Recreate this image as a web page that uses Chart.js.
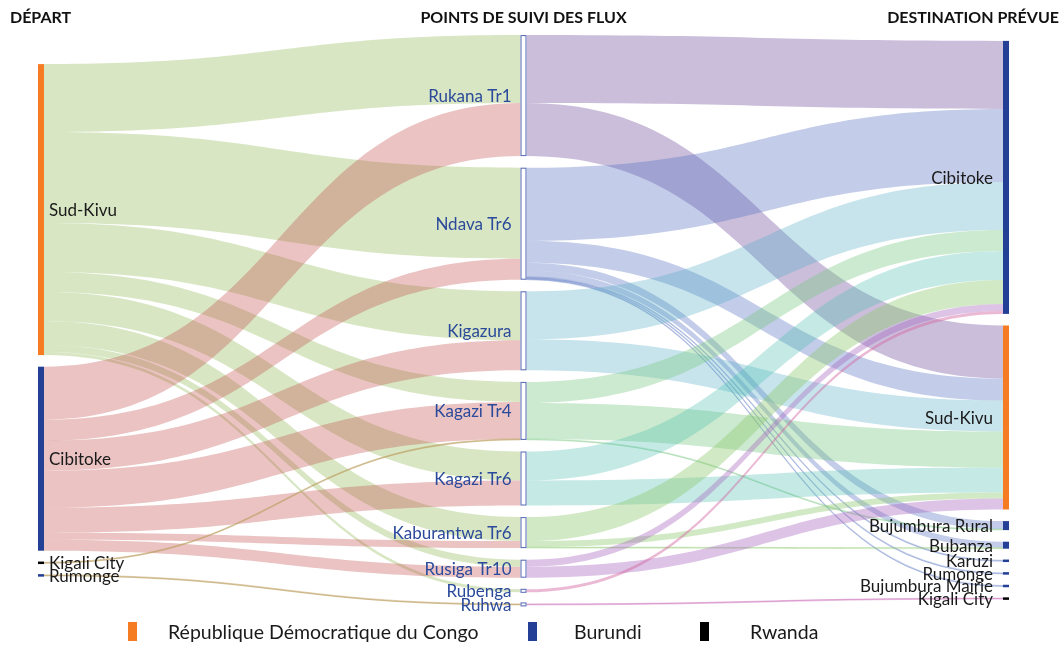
<!DOCTYPE html>
<html><head><meta charset="utf-8">
<script src="https://cdn.jsdelivr.net/npm/chart.js@4/dist/chart.umd.min.js"></script>
<style>html,body{margin:0;padding:0;background:#fff;}#wrap{width:1061px;height:646px;position:relative}</style>
</head><body><div id="wrap"><canvas id="c" width="1061" height="646"></canvas></div>
<script>
// ---------- DATA ----------
const headers = ['DÉPART', 'POINTS DE SUIVI DES FLUX', 'DESTINATION PRÉVUE'];
const departNodes = ['Sud-Kivu', 'Cibitoke', 'Kigali City', 'Rumonge'];
const departCountry = [0, 1, 2, 1];
const pointNodes = ['Rukana Tr1', 'Ndava Tr6', 'Kigazura', 'Kagazi Tr4', 'Kagazi Tr6', 'Kaburantwa Tr6', 'Rusiga Tr10', 'Rubenga', 'Ruhwa'];
const destNodes = ['Cibitoke', 'Sud-Kivu', 'Bujumbura Rural', 'Bubanza', 'Karuzi', 'Rumonge', 'Bujumbura Mairie', 'Kigali City'];
const destCountry = [1, 0, 1, 1, 1, 1, 1, 2];
const countries = ['République Démocratique du Congo', 'Burundi', 'Rwanda'];

// departure -> tracking point (one value per point)
const fromSudKivu    = [68, 91, 49, 20, 29, 24, 7, 3, 0];
const fromCibitoke   = [53, 21, 30, 37, 25, 7, 11, 0, 0];
const fromKigaliCity = [0, 0, 0, 1, 0, 0, 0, 0, 0];
const fromRumonge    = [0, 0, 0, 0, 0, 0, 0, 0, 1];

// tracking point -> destination (one value per destination)
const viaRukanaTr1     = [68, 53, 0, 0, 0, 0, 0, 0];
const viaNdavaTr6      = [73, 22, 8, 6, 1, 1, 1, 0];
const viaKigazura      = [48, 31, 0, 0, 0, 0, 0, 0];
const viaKagaziTr4     = [21, 36, 1, 0, 0, 0, 0, 0];
const viaKagaziTr6     = [29, 25, 0, 0, 0, 0, 0, 0];
const viaKaburantwaTr6 = [24, 6, 0, 1, 0, 0, 0, 0];
const viaRusigaTr10    = [7, 11, 0, 0, 0, 0, 0, 0];
const viaRubenga       = [3, 0, 0, 0, 0, 0, 0, 0];
const viaRuhwa         = [0, 0, 0, 0, 0, 0, 0, 1];

// ---------- STYLE ----------
const countryColors = ['#f57c22', '#233f96', '#000000'];
const departFlowColors = ['rgba(169,200,122,0.45)', 'rgba(192,80,77,0.34)', 'rgba(190,160,100,0.6)', 'rgba(190,160,100,0.6)'];
const pointFlowColors = ['rgba(128,100,170,0.42)', 'rgba(79,109,190,0.34)', 'rgba(80,170,195,0.32)', 'rgba(120,200,130,0.38)',
  'rgba(75,190,175,0.32)', 'rgba(140,200,110,0.40)', 'rgba(165,100,190,0.38)', 'rgba(210,100,160,0.45)', 'rgba(200,100,180,0.45)'];

const departFlows = [fromSudKivu, fromCibitoke, fromKigaliCity, fromRumonge];
const pointFlows = [viaRukanaTr1, viaNdavaTr6, viaKigazura, viaKagaziTr4, viaKagaziTr6, viaKaburantwaTr6, viaRusigaTr10, viaRubenga, viaRuhwa];

const GAP = 11.6, YMAX = 572, NODE_W = 6;
const FONT = 'Lato, "Open Sans", sans-serif';

function sum(a) { return a.reduce((s, v) => s + v, 0); }

function buildLayout() {
  const leftVals = departFlows.map(sum);
  const midVals = pointNodes.map((_, j) => Math.max(sum(departFlows.map(r => r[j])), sum(pointFlows[j])));
  const rightVals = destNodes.map((_, k) => sum(pointFlows.map(r => r[k])));
  const cols = [leftVals, midVals, rightVals].map(vals => {
    const total = sum(vals) + GAP * (vals.length - 1);
    let y = (YMAX - total) / 2;
    return vals.map(v => { const n = { y0: y, y1: y + v, out: y, inn: y }; y += v + GAP; return n; });
  });
  const links = [];
  departFlows.forEach((row, i) => row.forEach((v, j) => {
    if (v > 0) links.push({ c: 0, s: i, t: j, v, color: departFlowColors[i] });
  }));
  pointFlows.forEach((row, j) => row.forEach((v, k) => {
    if (v > 0) links.push({ c: 1, s: j, t: k, v, color: pointFlowColors[j] });
  }));
  links.slice().sort((a, b) => a.c - b.c || a.s - b.s || a.t - b.t).forEach(l => {
    const n = cols[l.c][l.s]; l.sy0 = n.out; n.out += l.v; l.sy1 = n.out;
  });
  links.slice().sort((a, b) => a.c - b.c || a.t - b.t || a.s - b.s).forEach(l => {
    const n = cols[l.c + 1][l.t]; l.ty0 = n.inn; n.inn += l.v; l.ty1 = n.inn;
  });
  return { cols, links };
}

const sankeyPlugin = {
  id: 'sankey',
  afterDatasetsDraw(chart) {
    const ctx = chart.ctx, xs = chart.scales.x, ys = chart.scales.y;
    const { cols, links } = buildLayout();
    const px = c => xs.getPixelForValue(c);
    const py = v => ys.getPixelForValue(v);
    ctx.save();
    // flows
    links.forEach(l => {
      const x0 = px(l.c) + NODE_W, x1 = px(l.c + 1);
      const a0 = py(l.sy0), b0 = py(l.sy1), a1 = py(l.ty0), b1 = py(l.ty1);
      const xm = (x0 + x1) / 2;
      ctx.beginPath();
      ctx.moveTo(x0, a0);
      ctx.bezierCurveTo(xm, a0, xm, a1, x1, a1);
      ctx.lineTo(x1, b1);
      ctx.bezierCurveTo(xm, b1, xm, b0, x0, b0);
      ctx.closePath();
      ctx.fillStyle = l.color;
      ctx.fill();
      if (l.v <= 1) { ctx.strokeStyle = l.color; ctx.lineWidth = 0.8; ctx.stroke(); }
    });
    // nodes
    const nodeCountry = [departCountry, null, destCountry];
    [0, 2].forEach(c => {
      cols[c].forEach((n, i) => {
        const y0 = py(n.y0), y1 = py(n.y1);
        let h = y1 - y0, yy = y0;
        if (h < 2.5) { yy = (y0 + y1) / 2 - 1.25; h = 2.5; }
        ctx.fillStyle = countryColors[nodeCountry[c][i]];
        ctx.fillRect(px(c), yy, NODE_W, h);
      });
    });
    cols[1].forEach(n => {
      const y0 = py(n.y0), y1 = py(n.y1);
      let h = y1 - y0, yy = y0;
      if (h < 4) { yy = (y0 + y1) / 2 - 2; h = 4; }
      ctx.fillStyle = '#ffffff';
      ctx.fillRect(px(1), yy, NODE_W, h);
      ctx.strokeStyle = '#5468b4'; ctx.lineWidth = 1;
      ctx.strokeRect(px(1) + 0.5, yy + 0.5, NODE_W - 1, h - 1);
    });
    // labels
    ctx.font = '17px ' + FONT;
    ctx.textBaseline = 'middle';
    ctx.fillStyle = '#1a1a1a'; ctx.textAlign = 'left';
    cols[0].forEach((n, i) => ctx.fillText(departNodes[i], px(0) + NODE_W + 5, py((n.y0 + n.y1) / 2) + 1));
    ctx.fillStyle = '#2b4a9b'; ctx.textAlign = 'right';
    cols[1].forEach((n, i) => ctx.fillText(pointNodes[i], px(1) - 9, py((n.y0 + n.y1) / 2) + 1));
    ctx.fillStyle = '#1a1a1a'; ctx.textAlign = 'right';
    cols[2].forEach((n, i) => ctx.fillText(destNodes[i], px(2) - 10, py((n.y0 + n.y1) / 2) + 1));
    // headers
    ctx.font = 'bold 16px ' + FONT; ctx.fillStyle = '#111';
    ctx.textBaseline = 'alphabetic';
    ctx.textAlign = 'left'; ctx.fillText(headers[0], 10, 23);
    ctx.textAlign = 'center'; ctx.fillText(headers[1], px(1) + 3, 23);
    ctx.textAlign = 'right'; ctx.fillText(headers[2], 1059, 23);
    // legend
    const legBoxX = [128, 528, 700];
    const legTextX = [168, 574, 750];
    ctx.font = '19.5px ' + FONT; ctx.textBaseline = 'middle'; ctx.textAlign = 'left';
    countries.forEach((name, i) => {
      ctx.fillStyle = countryColors[i];
      ctx.fillRect(legBoxX[i], 622, 9, 19);
      ctx.fillStyle = '#1a1a1a';
      ctx.fillText(name, legTextX[i], 633);
    });
    ctx.restore();
  }
};

new Chart(document.getElementById('c'), {
  type: 'scatter',
  data: { datasets: [{ data: [] }] },
  options: {
    responsive: false, animation: false, devicePixelRatio: 1,
    layout: { padding: { left: 38, right: 58, top: 34, bottom: 40 } },
    scales: {
      x: { type: 'linear', min: 0, max: 2, display: false },
      y: { type: 'linear', min: 0, max: YMAX, reverse: true, display: false }
    },
    plugins: { legend: { display: false }, tooltip: { enabled: false } }
  },
  plugins: [sankeyPlugin]
});
</script>
</body></html>
